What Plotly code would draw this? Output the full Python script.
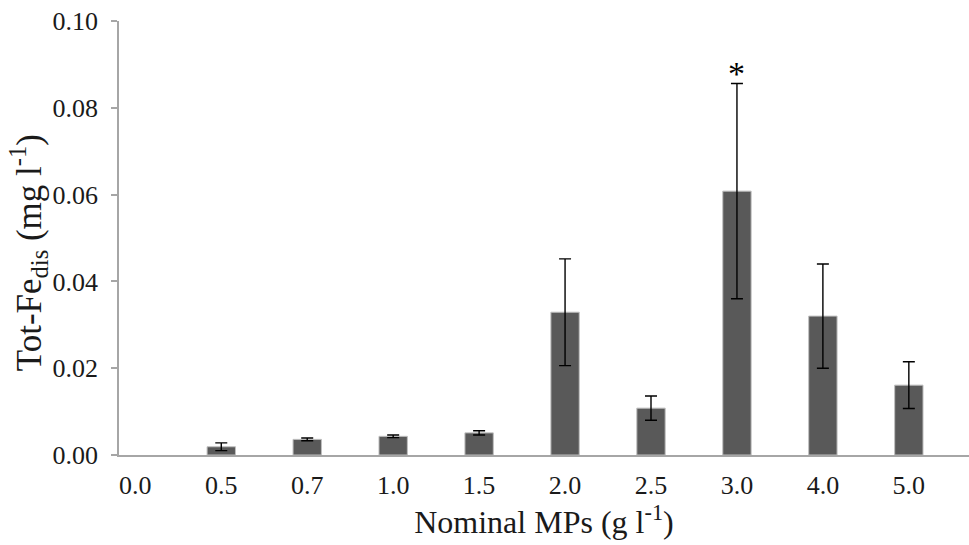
import plotly.graph_objects as go

# Nominal microplastic dose (g l-1) and dissolved total iron (mg l-1)
doses = ["0.0", "0.5", "0.7", "1.0", "1.5", "2.0", "2.5", "3.0", "4.0", "5.0"]
tot_fe = [0.0, 0.0019, 0.0036, 0.0043, 0.0051, 0.0329, 0.0108, 0.0608, 0.0320, 0.0161]
tot_fe_err = [0.0, 0.0009, 0.0003, 0.0003, 0.0005, 0.0123, 0.0028, 0.0248, 0.0120, 0.0054]
significant = ["3.0"]

y_ticks = [0.00, 0.02, 0.04, 0.06, 0.08, 0.10]

serif = "Liberation Serif, Times New Roman, serif"
axis_grey = "#a6a6a6"
text_col = "#1a1a1a"

# a zero reading gets no bar and no error cap
y_drawn = [v if v > 0 else None for v in tot_fe]

fig = go.Figure()
fig.add_trace(go.Bar(
    x=doses,
    y=y_drawn,
    width=0.33,
    marker=dict(color="#595959", line=dict(color="#bfbfbf", width=1)),
    error_y=dict(type="data", array=tot_fe_err, visible=True,
                 color="black", thickness=1.4, width=6),
    showlegend=False,
))

# Asterisk above the error bar of significant doses
for d in significant:
    i = doses.index(d)
    fig.add_annotation(x=i, y=tot_fe[i] + tot_fe_err[i], text="*",
                       showarrow=False, yanchor="bottom", yshift=-10,
                       font=dict(family=serif, size=34, color="black"))

# y-axis title, rotated, placed left of the tick labels
fig.add_annotation(
    xref="paper", yref="paper", x=-0.107, y=0.465,
    xanchor="center", yanchor="middle", textangle=-90, showarrow=False,
    text="Tot-Fe<sub>dis</sub> (mg l<sup>-1</sup>)",
    font=dict(family=serif, size=35, color=text_col),
)

fig.update_layout(
    width=969, height=545,
    margin=dict(l=119, r=0, t=21, b=90),
    plot_bgcolor="white", paper_bgcolor="white",
    font=dict(family=serif, size=26, color=text_col),
)
fig.update_xaxes(
    type="category",
    range=[-0.19, 9.7],
    showline=True, linecolor=axis_grey, linewidth=1.5,
    ticks="", showgrid=False, zeroline=False,
    tickfont=dict(family=serif, size=26, color=text_col),
    ticklabelstandoff=6,
    title=dict(text="Nominal MPs (g l<sup>-1</sup>)",
               font=dict(family=serif, size=32, color=text_col), standoff=2),
)
fig.update_yaxes(
    range=[0, 0.1],
    tickvals=y_ticks,
    ticktext=[f"{v:.2f}" for v in y_ticks],
    showline=True, linecolor=axis_grey, linewidth=1.5,
    ticks="outside", ticklen=6, tickcolor=axis_grey, tickwidth=1.5,
    showgrid=False, zeroline=False,
    tickfont=dict(family=serif, size=26, color=text_col),
    ticklabelstandoff=8,
)

fig.write_html("out.html")
